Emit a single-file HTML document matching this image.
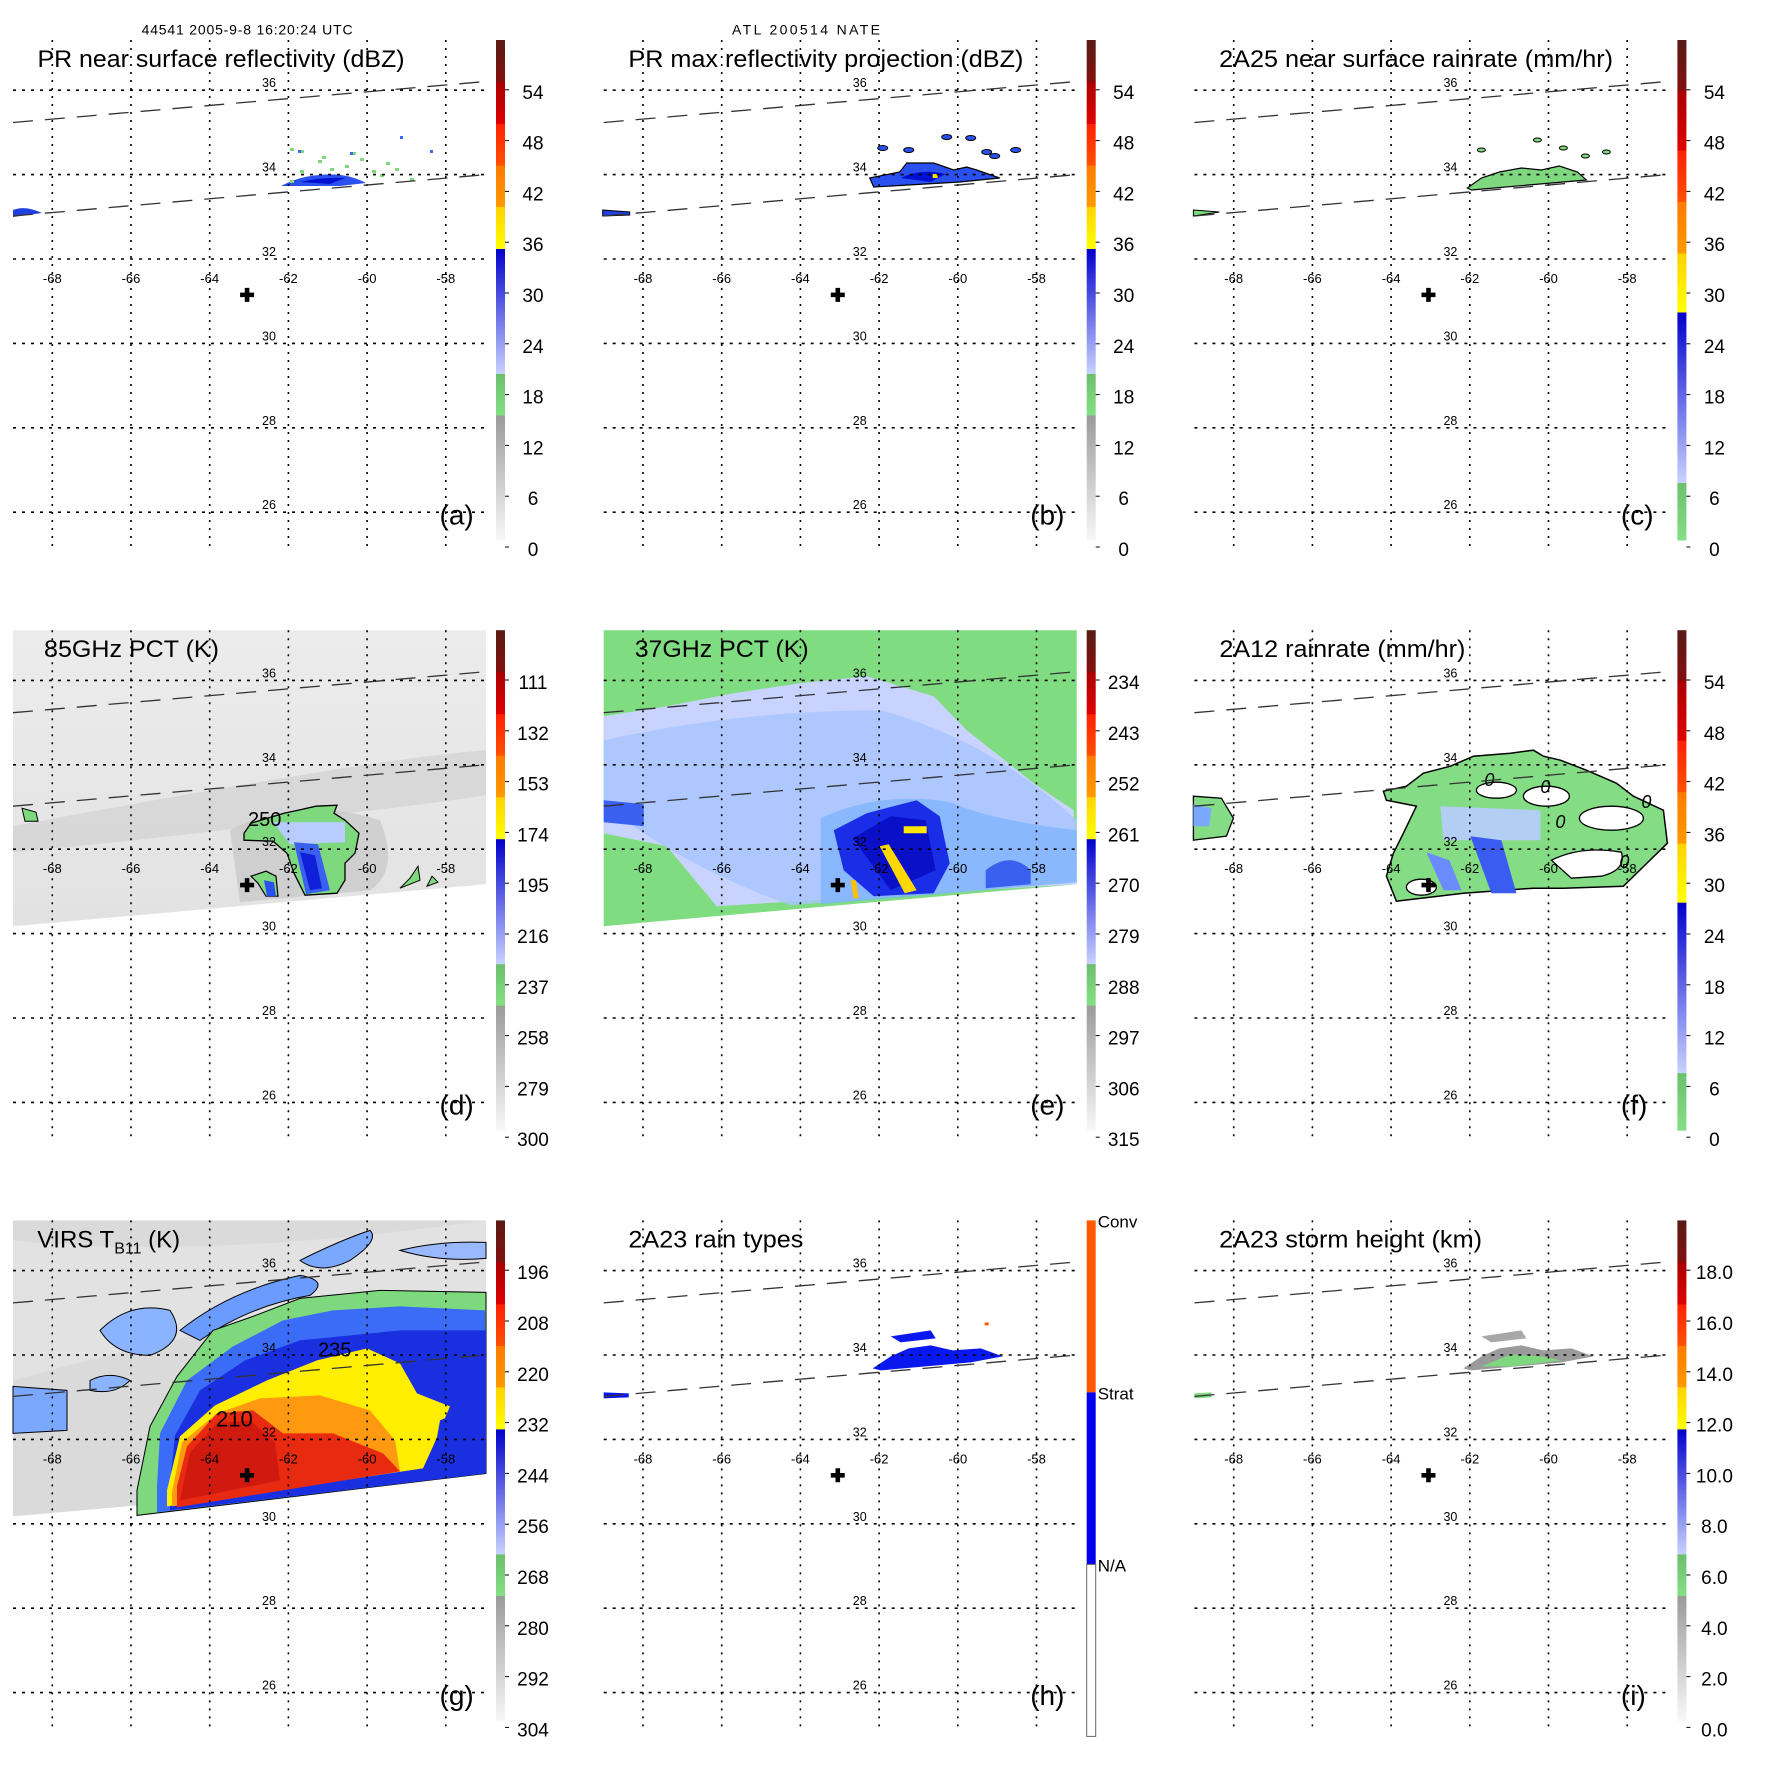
<!DOCTYPE html>
<html><head><meta charset="utf-8"><style>
html,body{margin:0;padding:0;background:#fff}
svg{display:block;font-family:"Liberation Sans",Arial,sans-serif}
</style></head><body>
<svg id="fig" xmlns="http://www.w3.org/2000/svg" width="1771" height="1771" viewBox="0 0 1771 1771">
<defs>
<linearGradient id="gSw" x1="0" y1="0" x2="0" y2="1"><stop offset="0" stop-color="#ececec"/><stop offset="1" stop-color="#e2e2e2"/></linearGradient>
</defs>
<text x="141.6" y="34.5" font-size="14" textLength="211">44541 2005-9-8 16:20:24 UTC</text>
<text x="732" y="34.5" font-size="14" textLength="148">ATL 200514 NATE</text>
<g id="panels"></g>
</svg>
<script>
// ---- chart data ----
const lonTicks = [-68,-66,-64,-62,-60,-58];
const latTicks = [36,34,32,30,28,26];
const panelTitles = ["PR near surface reflectivity (dBZ)","PR max reflectivity projection (dBZ)","2A25 near surface rainrate (mm/hr)","85GHz PCT (K)","37GHz PCT (K)","2A12 rainrate (mm/hr)","VIRS T","2A23 rain types","2A23 storm height (km)"];
const panelLetters = ["(a)","(b)","(c)","(d)","(e)","(f)","(g)","(h)","(i)"];
const cbLabelsA = ["0","6","12","18","24","30","36","42","48","54"];
const cbLabelsD = ["300","279","258","237","216","195","174","153","132","111"];
const cbLabelsE = ["315","306","297","288","279","270","261","252","243","234"];
const cbLabelsG = ["304","292","280","268","256","244","232","220","208","196"];
const cbLabelsI = ["0.0","2.0","4.0","6.0","8.0","10.0","12.0","14.0","16.0","18.0"];
const cbLabelsH = ["N/A","Strat","Conv"];
const stormCenter = [-63.05, 31.15];

const NS = "http://www.w3.org/2000/svg";
const COLX = 590.7, ROWY = 590.2;
function xS(lon){ return 52.3 + (lon + 68) * 39.35; }
function yS(lat){ return 259 + (32 - lat) * 42.2; }
function mk(tag, attrs, parent){ const e = document.createElementNS(NS, tag); for (const k in attrs) e.setAttribute(k, attrs[k]); if (parent) parent.appendChild(e); return e; }

const scaleStd = [[0,0.25,"#f8f8f8","#9a9a9a"],[0.25,0.333,"#84e084","#6cbe6c"],[0.333,0.583,"#c8d2ff","#0000cc"],[0.583,0.667,"#ffff00","#ffd200"],[0.667,0.75,"#ff9a00","#ff7a00"],[0.75,0.833,"#ff5000","#ff2000"],[0.833,0.917,"#e00000","#aa0000"],[0.917,1,"#821010","#5a1a14"]];
const scaleRain = [[0,0.115,"#84e084","#6cc06c"],[0.115,0.456,"#c8d2ff","#0000cc"],[0.456,0.574,"#ffff00","#ffd200"],[0.574,0.677,"#ff9a00","#ff7a00"],[0.677,0.78,"#ff5000","#ff2000"],[0.78,0.9,"#e00000","#aa0000"],[0.9,1,"#821010","#5a1a14"]];

const root = document.getElementById("panels");
let gid = 0;
function colorbar(g, scale, labels){
  const cb = mk("g", {}, g);
  
  
  const top = 40, bot = 540, x = 496, w = 9;
  scale.forEach(s => {
    const id = "cg" + (gid++);
    const lg = mk("linearGradient", {id: id, x1: 0, y1: 1, x2: 0, y2: 0}, document.querySelector("defs"));
    mk("stop", {offset: 0, "stop-color": s[2]}, lg); mk("stop", {offset: 1, "stop-color": s[3]}, lg);
    const y1 = bot - s[1] * (bot - top), y0 = bot - s[0] * (bot - top);
    mk("rect", {x: x, y: y1, width: w, height: y0 - y1 + 0.5, fill: "url(#" + id + ")"}, cb);
  });
  labels.forEach((t, i) => {
    const y = 553 - i * 50.8;
    mk("line", {x1: x + w, x2: x + w + 4, y1: y - 6, y2: y - 6, stroke: "#000", "stroke-width": 1}, cb);
    const tx = mk("text", {x: 533, y: y + 3, "font-size": 19, "text-anchor": "middle"}, cb);
    tx.textContent = t;
    
    
  });
}
function colorbarH(g){
  const cb = mk("g", {}, g);
  
  
  const segs = [[40,212,"#ff5a00"],[212,384,"#0000ee"],[384,556,"#ffffff"]];
  segs.forEach(s => mk("rect", {x: 496, y: s[0], width: 9, height: s[1]-s[0], fill: s[2], stroke: s[2]=="#ffffff" ? "#666" : "none", "stroke-width": 1}, cb));
  const ys = [384, 212, 40];
  cbLabelsH.forEach((t, i) => {
    const tx = mk("text", {x: 507, y: ys[i] + 7, "font-size": 17}, cb);
    tx.textContent = t;
    
    
  });
}
const swath = "M13,40 L486,40 L486,294 L13,336 Z";
function P(g, d, fill, extra){ const e = mk("path", Object.assign({d: d, fill: fill}, extra || {}), g); return e; }

const titleW = [367,395,394,175,174,246,70,175,263];
const titleX = [37.5,37.7,37.7,44,44,38,37.3,37.7,37.7];

for (let p = 0; p < 9; p++){
  const c = p % 3, r = Math.floor(p / 3);
  const g = mk("g", {transform: "translate(" + (c*COLX) + "," + (r*ROWY) + ")"}, root);
  
  
  const data = mk("g", {}, g);
  
  
  if (p === 0){
    P(data,"M281,186 Q300,176 320,175 Q345,172 366,183 L340,186 Z","#2a50f0");
    P(data,"M300,182 Q320,177 345,178 L330,184 Z","#0010d0");
    P(data,"M13,210 Q25,205 42,213 L13,217 Z","#2040e0");
    [[290,148],[300,150],[318,160],[330,168],[345,165],[360,158],[372,170],[380,174],[395,168],[410,178],[322,156],[300,170],[290,180],[352,152],[386,162]].forEach(q=>mk("rect",{x:q[0],y:q[1],width:4,height:3,fill:"#7ed87e"},data));
    [[400,136],[430,150],[298,150],[350,152]].forEach(q=>mk("rect",{x:q[0],y:q[1],width:3,height:3,fill:"#3a6af8"},data));
  } else if (p === 1){
    P(data,"M279,178 L309,172 L316,163 L343,163 L363,170 L376,167 L386,170 L409,178 L369,182 L283,187 Z","#2a50f0",{stroke:"#000","stroke-width":1.2});
    P(data,"M310,178 Q330,168 355,174 L340,182 Z","#0010d0");
    mk("rect",{x:342,y:174,width:5,height:4,fill:"#ffe000"},data);
    P(data,"M12,210 L39,212 L39,215 L12,216 Z","#2040e0",{stroke:"#000","stroke-width":1});
    [[292,148],[318,150],[356,137],[380,138],[396,152],[404,156],[425,150]].forEach(q=>mk("ellipse",{cx:q[0],cy:q[1],rx:5,ry:2.5,fill:"#2a50f0",stroke:"#000","stroke-width":1},data));
  } else if (p === 2){
    P(data,"M286,188 L300,178 L318,172 L340,168 L360,170 L378,166 L396,172 L405,180 L370,183 L290,190 Z","#7ed87e",{stroke:"#000","stroke-width":1.2});
    P(data,"M12,210 L38,212 L12,216 Z","#7ed87e",{stroke:"#000","stroke-width":1});
    [[300,150],[356,140],[382,148],[404,156],[425,152]].forEach(q=>mk("ellipse",{cx:q[0],cy:q[1],rx:4,ry:2,fill:"#7ed87e",stroke:"#000","stroke-width":1},data));
  } else if (p === 3){
    P(data, swath, "url(#gSw)");
    P(data,"M13,236 Q150,210 300,185 Q420,165 486,160 L486,205 Q420,215 330,225 Q200,245 13,262 Z","#d2d2d2",{opacity:0.7});
    P(data,"M230,240 Q300,205 380,230 Q400,280 370,300 L240,312 Z","#c6c6c6",{opacity:0.7});
    P(data,"M244,243 L251,233 L284,223 L298,220 L316,216 L337,215 L334,223 L345,230 L359,243 L355,263 L345,273 L345,290 L337,303 L305,305 L294,283 L287,263 L273,251 L244,250 Z","#7ed87e",{stroke:"#000","stroke-width":1.3});
    P(data,"M273,232 L345,232 L345,252 L290,254 Z","#b8ccff");
    P(data,"M294,252 L318,254 L330,300 L306,304 Z","#3a60f0");
    P(data,"M300,262 L315,265 L322,298 L310,300 Z","#1020d8");
    P(data,"M251,286 L266,281 L276,286 L278,306 L266,306 L258,293 Z","#7ed87e",{stroke:"#000","stroke-width":1.2});
    P(data,"M264,290 L274,292 L276,306 L267,306 Z","#2a50f0");
    P(data,"M22,218 L36,222 L38,231 L25,231 Z","#7ed87e",{stroke:"#000","stroke-width":1});
    P(data,"M400,298 L410,288 L418,276 L420,290 Z","#7ed87e",{stroke:"#000","stroke-width":1});
    P(data,"M427,296 L432,286 L438,292 Z","#7ed87e",{stroke:"#000","stroke-width":1});
    const t = mk("text",{x:248,y:236,"font-size":20},data); t.textContent = "250";
    
    
  } else if (p === 4){
    P(data, swath, "#80dc80");
    P(data,"M13,126 L76,116 L143,103 L209,93 L276,86 L343,106 L376,140 L409,166 L443,193 L483,220 L486,294 L126,316 L76,256 L13,243 Z","#c8d4ff");
    P(data,"M13,150 Q150,120 290,120 Q400,150 486,230 L486,292 L200,315 Q100,280 13,215 Z","#a8c4ff",{opacity:0.8});
    P(data,"M13,210 L53,214 L53,236 L13,232 Z","#3a60f0");
    P(data,"M230,228 Q290,200 360,212 Q400,230 486,240 L486,292 L230,314 Z","#7ab0ff",{opacity:0.7});
    P(data,"M243,240 L276,223 L326,210 L349,226 L359,273 L343,303 L283,306 L253,280 Z","#1a2ee8");
    P(data,"M262,248 L300,226 L335,230 L345,280 L300,300 Z","#0a10c8");
    P(data,"M289,256 L298,254 L326,300 L314,303 Z","#ffd800");
    P(data,"M313,236 L336,236 L336,243 L313,243 Z","#ffe800");
    P(data,"M260,290 L265,290 L268,308 L263,308 Z","#ffc000");
    P(data,"M395,280 Q420,260 440,280 L440,294 L395,298 Z","#3a60f0");
  } else if (p === 5){
    P(data,"M202,201 L225,196 L242,183 L269,176 L292,166 L329,163 L352,160 L362,166 L379,170 L405,180 L435,193 L452,206 L482,220 L486,253 L442,296 L382,298 L352,298 L282,303 L215,311 L205,286 L212,263 L222,243 L235,216 L205,210 Z","#84dc84",{stroke:"#000","stroke-width":1.5});
    P(data,"M259,216 L359,220 L359,250 L262,250 Z","#b8ccff",{opacity:0.9});
    P(data,"M289,246 L320,250 L335,303 L310,303 Z","#3a5cf0");
    P(data,"M245,262 L268,270 L280,300 L262,300 Z","#6a8cff");
    [[315,200,20,8],[365,206,23,10],[430,228,32,12],[240,297,15,8]].forEach(e=>mk("ellipse",{cx:e[0],cy:e[1],rx:e[2],ry:e[3],fill:"#fff",stroke:"#000","stroke-width":1.3},data));
    P(data,"M370,270 Q400,255 440,262 Q445,280 420,286 L390,288 Z","#fff",{stroke:"#000","stroke-width":1.3});
    P(data,"M12,206 L40,208 L52,228 L45,246 L12,250 Z","#84dc84",{stroke:"#000","stroke-width":1.3});
    P(data,"M12,214 L30,218 L28,236 L12,236 Z","#7aa8ff");
    [[308,189],[364,196],[465,211],[379,231],[443,271]].forEach(q=>{ const t=mk("text",{x:q[0],y:q[1]+7,"font-size":18,"text-anchor":"middle","font-style":"italic"},data); t.textContent="0";   });
  } else if (p === 6){
    P(data, swath, "#dadada");
    P(data,"M13,60 Q200,80 486,40 L486,120 Q300,120 13,200 Z","#e6e6e6",{opacity:0.7});
    P(data,"M13,206 L67,210 L67,250 L13,253 Z","#7aa8ff",{stroke:"#000","stroke-width":1});
    P(data,"M100,150 Q130,120 170,130 Q190,160 150,175 Q115,175 100,150 Z","#8ab4ff",{stroke:"#000","stroke-width":1});
    P(data,"M180,150 Q230,110 300,95 Q330,100 310,115 Q250,125 200,160 Z","#6a9cff",{stroke:"#000","stroke-width":1});
    P(data,"M300,80 Q340,60 370,50 Q380,60 350,80 Q320,95 300,80 Z","#7aa8ff",{stroke:"#000","stroke-width":1});
    P(data,"M400,70 Q440,60 486,62 L486,78 Q440,82 400,70 Z","#9ab8ff",{stroke:"#000","stroke-width":1});
    P(data,"M90,200 Q110,190 130,200 Q115,215 90,210 Z","#8ab4ff",{stroke:"#000","stroke-width":1});
    P(data,"M137,310 L150,246 L177,196 L213,150 L253,136 L300,118 L380,110 L486,112 L486,293 L137,335 Z","#7ed87e",{stroke:"#000","stroke-width":1});
    P(data,"M157,306 L160,253 L187,200 L233,166 L283,140 L333,130 L400,126 L485,130 L486,293 L157,332 Z","#3a6cf8");
    P(data,"M170,304 L175,255 L200,210 L245,180 L300,160 L400,150 L486,150 L486,293 L170,330 Z","#1a30e0");
    P(data,"M167,310 L180,256 L215,225 L267,200 L317,180 L367,168 L400,183 L417,213 L450,226 L433,266 L423,288 L167,326 Z","#ffee00");
    P(data,"M172,312 L182,262 L217,233 L260,218 L320,215 L370,230 L395,260 L400,291 L172,326 Z","#ff9a10");
    P(data,"M177,306 L187,266 L217,233 L253,230 L283,253 L333,253 L383,273 L400,291 L177,327 Z","#e82a10");
    P(data,"M180,320 L190,272 L217,243 L250,240 L275,262 L280,300 Z","#d01a10");
    P(data,"M440,240 L486,220 L486,293 L430,296 Z","#1a30e0");
    const t1=mk("text",{x:216,y:246,"font-size":22},data); t1.textContent="210";
     
    const t2=mk("text",{x:318,y:176,"font-size":20},data); t2.textContent="235";
     
  } else if (p === 7){
    P(data,"M282,188 L300,176 L318,168 L340,165 L362,170 L390,168 L412,176 L380,182 L290,190 Z","#0a18f0");
    P(data,"M300,156 L340,150 L345,158 L310,162 Z","#0a18f0");
    P(data,"M13,212 L38,213 L38,217 L13,218 Z","#0a18f0");
    mk("rect",{x:394,y:142,width:4,height:3,fill:"#ff5a00"},data);
  } else if (p === 8){
    P(data,"M282,188 L300,176 L318,168 L340,165 L362,170 L390,168 L412,176 L380,182 L290,190 Z","#9a9a9a");
    P(data,"M300,186 L330,174 L360,176 L380,180 L330,186 Z","#7ed87e");
    P(data,"M300,156 L340,150 L345,158 L310,162 Z","#a8a8a8");
    P(data,"M13,213 L30,212 L30,217 L13,218 Z","#7ed87e");
  }
  const grid = mk("g", {}, g);
  
  
  lonTicks.forEach(lon => {
    mk("line",{x1:xS(lon),x2:xS(lon),y1:40,y2:548,stroke:"#000","stroke-width":1.6,"stroke-dasharray":"2,6"},grid);
    const t = mk("text",{x:xS(lon),y:283,"font-size":13,"text-anchor":"middle"},grid); t.textContent = String(lon);
    
    
  });
  latTicks.forEach(lat => {
    mk("line",{x1:13,x2:486,y1:yS(lat),y2:yS(lat),stroke:"#000","stroke-width":1.6,"stroke-dasharray":"3,6"},grid);
    const t = mk("text",{x:269,y:yS(lat)-3,"font-size":12.5,"text-anchor":"middle"},grid); t.textContent = String(lat);
    
    
  });
  const sw1 = mk("line",{x1:13,y1:122.5,x2:486,y2:81.5,stroke:"#333","stroke-width":1.3,"stroke-dasharray":"20,12"},g);
  
  
  const sw2 = mk("line",{x1:13,y1:216,x2:486,y2:174.6,stroke:"#333","stroke-width":1.3,"stroke-dasharray":"20,12"},g);
  
  
  const cx = xS(stormCenter[0]), cy = yS(stormCenter[1]);
  const cr = mk("path",{d:"M"+(cx-7)+","+(cy-2.3)+"h4.7v-4.7h4.6v4.7h4.7v4.6h-4.7v4.7h-4.6v-4.7h-4.7z",fill:"#000"},g);
  
  
  const tt = mk("text",{x:titleX[p],y:67,"font-size":24,textLength:titleW[p],lengthAdjust:"spacingAndGlyphs"},g);
  tt.textContent = panelTitles[p];
  
  
  if (p === 6){
    tt.removeAttribute("textLength");
    const s = mk("tspan",{"font-size":16,dy:6},tt); s.textContent = "B11";
    const s2 = mk("tspan",{dy:-6},tt); s2.textContent = " (K)";
  }
  const lt = mk("text",{x:439.5,y:524.5,"font-size":28},g);
  lt.textContent = panelLetters[p];
  
  
  if (p === 0 || p === 1) colorbar(g, scaleStd, cbLabelsA);
  else if (p === 2 || p === 5) colorbar(g, scaleRain, cbLabelsA);
  else if (p === 3) colorbar(g, scaleStd, cbLabelsD);
  else if (p === 4) colorbar(g, scaleStd, cbLabelsE);
  else if (p === 6) colorbar(g, scaleStd, cbLabelsG);
  else if (p === 7) colorbarH(g);
  else colorbar(g, scaleStd, cbLabelsI);
}
</script>
</body></html>
